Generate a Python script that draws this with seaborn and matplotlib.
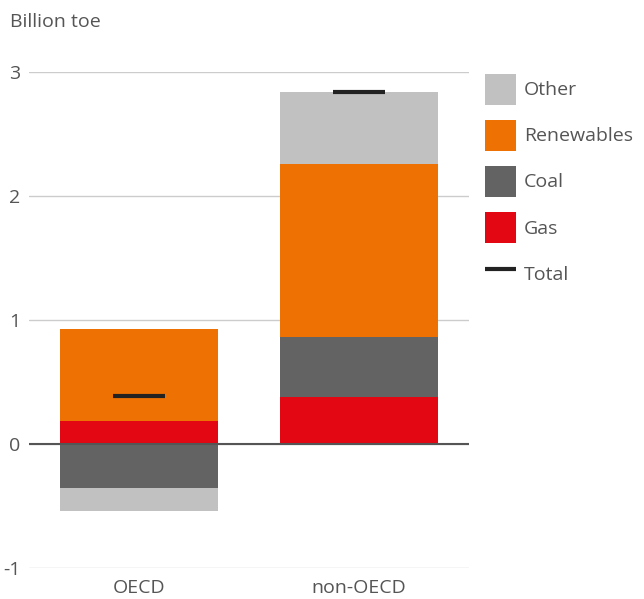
import matplotlib
matplotlib.use("Agg")
import matplotlib.pyplot as plt
import seaborn as sns
import numpy as np
from matplotlib.patches import Patch
from matplotlib.lines import Line2D

# data (billion toe)
regions = ["OECD", "non-OECD"]
gas = [0.185, 0.38]
coal = [-0.355, 0.48]
renewables = [0.74, 1.40]
other = [-0.185, 0.58]
series_names = ["Gas", "Coal", "Renewables", "Other"]
series_values = [gas, coal, renewables, other]
colors = {"Gas": "#e30613", "Coal": "#636363", "Renewables": "#ee7203", "Other": "#c1c1c1"}
total = list(np.sum(series_values, axis=0))

sns.set_theme(style="white")
plt.rcParams["font.family"] = ["Open Sans", "DejaVu Sans"]
text_col = "#555555"
fs = 14

# cumulative stacking, positives up and negatives down separately
pos = np.zeros(len(regions))
neg = np.zeros(len(regions))
tops = {}
for name, vals in zip(series_names, series_values):
    vals = np.array(vals)
    end = np.where(vals >= 0, pos + vals, neg + vals)
    pos = np.where(vals >= 0, pos + vals, pos)
    neg = np.where(vals < 0, neg + vals, neg)
    tops[name] = end

fig = plt.figure(figsize=(6.44, 5.99), dpi=100)
ax = fig.add_axes([0.045, 0.0518, 0.683, 0.828])

# draw outermost first so inner segments sit on top
for name in reversed(series_names):
    sns.barplot(x=regions, y=tops[name], color=colors[name], saturation=1,
                width=0.72, linewidth=0, errorbar=None, ax=ax, zorder=2)

sns.pointplot(x=regions, y=total, color="#222222", linestyle="none", marker="_",
              markersize=38, markeredgewidth=3, errorbar=None, ax=ax, zorder=4)

ax.set_xlim(-0.5, 1.5)
ax.set_ylim(-1, 3)
ax.set_yticks([-1, 0, 1, 2, 3])
ax.set_yticklabels(["-1", "0", "1", "2", "3"])
ax.yaxis.grid(True, color="#cccccc", linewidth=1)
ax.set_axisbelow(True)
ax.axhline(0, color="#555555", linewidth=1.5, zorder=3)
for s in ax.spines.values():
    s.set_visible(False)
ax.tick_params(axis="y", length=0, pad=6, labelsize=fs, labelcolor=text_col)
ax.tick_params(axis="x", length=0, pad=8, labelsize=fs, labelcolor=text_col)
ax.set_xlabel("")
ax.set_ylabel("")

fig.text(0.016, 0.963, "Billion toe", fontsize=fs, color=text_col, va="center")

handles = [Patch(facecolor=colors[n], edgecolor="none") for n in ["Other", "Renewables", "Coal", "Gas"]]
handles.append(Line2D([0], [0], color="#222222", linewidth=3, solid_capstyle="butt"))
labels = ["Other", "Renewables", "Coal", "Gas", "Total"]
fig.legend(handles, labels, loc="upper left", bbox_to_anchor=(0.753, 0.877),
           frameon=False, fontsize=fs, labelcolor=text_col, handlelength=1.6,
           handleheight=2.07, labelspacing=0.78, handletextpad=0.4,
           borderpad=0, borderaxespad=0)

fig.savefig("out.png", dpi=100)
